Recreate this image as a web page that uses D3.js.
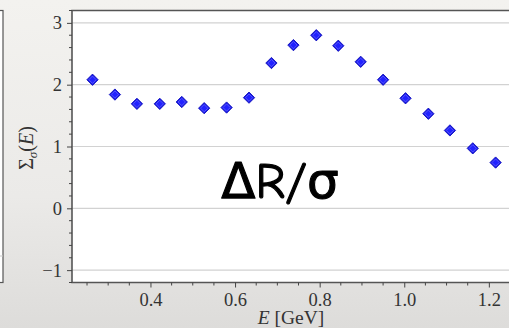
<!DOCTYPE html>
<html>
<head>
<meta charset="utf-8">
<script src="https://cdn.jsdelivr.net/npm/d3@7"></script>
<style>
  html, body { margin: 0; padding: 0; overflow: hidden; }
  svg { display: block; }
</style>
</head>
<body>
<div id="chart"></div>
<script>
// data
var energy = [0.263, 0.316, 0.368, 0.422, 0.474, 0.527, 0.580, 0.633, 0.686, 0.738,
              0.792, 0.844, 0.897, 0.950, 1.003, 1.057, 1.108, 1.162, 1.216];
var sigma = [2.08, 1.84, 1.69, 1.69, 1.72, 1.62, 1.63, 1.79, 2.35, 2.64,
             2.80, 2.63, 2.37, 2.08, 1.78, 1.53, 1.26, 0.97, 0.74];
var xTicks = [0.4, 0.6, 0.8, 1.0, 1.2];
var yTicks = [-1, 0, 1, 2, 3];

function drawChart() {
  var W = 509, H = 328;
  var left = 72, top = 10.5, bottom = 282.5, right = 510;
  var serif = "'Liberation Serif', 'Times New Roman', serif";

  var svg = d3.select("#chart").append("svg")
      .attr("width", W)
      .attr("height", H);

  // photo-like backdrop
  var grad = svg.append("defs").append("linearGradient")
      .attr("id", "bg").attr("x1", 0).attr("y1", 0).attr("x2", 0).attr("y2", 1);
  grad.append("stop").attr("offset", "0").attr("stop-color", "#f3f2ef");
  grad.append("stop").attr("offset", "0.6").attr("stop-color", "#ebeae8");
  grad.append("stop").attr("offset", "1").attr("stop-color", "#dddcda");
  svg.append("rect").attr("width", W).attr("height", H).attr("fill", "url(#bg)");

  // edge of the neighbouring panel
  svg.append("rect").attr("x", -2).attr("y", top).attr("width", 5).attr("height", bottom - top)
      .attr("fill", "#fff").attr("stroke", "#555").attr("stroke-width", 1.2);
  svg.append("line").attr("x1", 0).attr("x2", 3).attr("y1", 256).attr("y2", 256)
      .attr("stroke", "#c8c8c8");

  var x = d3.scaleLinear().domain([0.2145, 1.25]).range([left, right]);
  var y = d3.scaleLinear().domain([-1.2, 3.2]).range([bottom, top]);

  svg.append("rect")
      .attr("x", left).attr("y", top)
      .attr("width", right - left).attr("height", bottom - top)
      .attr("fill", "#fff");

  // grid
  svg.append("g").selectAll("line")
      .data(yTicks)
      .enter().append("line")
      .attr("x1", left).attr("x2", right)
      .attr("y1", function(d) { return y(d); })
      .attr("y2", function(d) { return y(d); })
      .attr("stroke", "#d2d2d2")
      .attr("stroke-width", 1.2);

  // frame
  svg.append("path")
      .attr("d", "M" + (right + 5) + "," + top + "H" + left + "V" + bottom + "H" + (right + 5))
      .attr("fill", "none")
      .attr("stroke", "#555")
      .attr("stroke-width", 1.6);

  // x axis
  var xMinor = d3.range(0.25, 1.26, 0.05).filter(function(v) {
    return !xTicks.some(function(t) { return Math.abs(t - v) < 1e-6; });
  });
  var xAxis = d3.axisBottom(x).tickValues(xTicks)
      .tickFormat(d3.format(".1f")).tickSizeInner(5).tickSizeOuter(0).tickPadding(5);
  var gx = svg.append("g")
      .attr("transform", "translate(0," + bottom + ")")
      .call(xAxis);
  gx.append("g").selectAll("line")
      .data(xMinor)
      .enter().append("line")
      .attr("x1", function(d) { return x(d); })
      .attr("x2", function(d) { return x(d); })
      .attr("y1", 0).attr("y2", 3)
      .attr("stroke", "#444");

  // y axis
  var yMinor = d3.range(-1.2, 3.21, 0.2).filter(function(v) {
    return !yTicks.some(function(t) { return Math.abs(t - v) < 1e-6; });
  });
  var yAxis = d3.axisLeft(y).tickValues(yTicks)
      .tickFormat(function(d) { return d < 0 ? "\u2212" + Math.abs(d) : d; })
      .tickSizeInner(5).tickSizeOuter(0).tickPadding(5);
  var gy = svg.append("g")
      .attr("transform", "translate(" + left + ",0)")
      .call(yAxis);
  gy.append("g").selectAll("line")
      .data(yMinor)
      .enter().append("line")
      .attr("y1", function(d) { return y(d); })
      .attr("y2", function(d) { return y(d); })
      .attr("x1", 0).attr("x2", -3)
      .attr("stroke", "#444");

  svg.selectAll(".domain").remove();
  svg.selectAll("g.tick line").attr("stroke", "#444");
  gx.attr("font-family", null).attr("font-size", null);
  gy.attr("font-family", null).attr("font-size", null);
  svg.selectAll("g.tick text")
      .attr("font-family", serif)
      .attr("font-size", 18.5)
      .attr("fill", "#333");

  // axis titles
  var xt = svg.append("text")
      .attr("x", (left + right) / 2)
      .attr("y", 324)
      .attr("text-anchor", "middle")
      .attr("font-family", serif)
      .attr("font-size", 19.5)
      .attr("fill", "#333");
  xt.append("tspan").attr("font-style", "italic").text("E");
  xt.append("tspan").text(" [GeV]");

  var yt = svg.append("text")
      .attr("transform", "translate(33,148) rotate(-90)")
      .attr("text-anchor", "middle")
      .attr("font-family", serif)
      .attr("font-size", 20)
      .attr("fill", "#333");
  yt.append("tspan").text("\u03A3");
  yt.append("tspan").attr("dy", 4).attr("font-size", 13).attr("font-style", "italic").text("\u03C3");
  yt.append("tspan").attr("dy", -4).text("(");
  yt.append("tspan").attr("font-style", "italic").text("E");
  yt.append("tspan").text(")");

  // markers
  var pts = svg.append("g").selectAll("g")
      .data(energy)
      .enter().append("g")
      .attr("transform", function(d, i) {
        return "translate(" + x(d) + "," + y(sigma[i]) + ") rotate(45)";
      });
  pts.append("rect")
      .attr("x", -4).attr("y", -4).attr("width", 8).attr("height", 8)
      .attr("fill", "#1818e8")
      .attr("stroke", "#0a0ab8")
      .attr("stroke-width", 0.8);
  pts.append("rect")
      .attr("x", -2.6).attr("y", -2.6).attr("width", 5.2).attr("height", 5.2)
      .attr("fill", "#2222ff")
      .attr("stroke", "#6a6aff")
      .attr("stroke-width", 0.7);

  // overlay annotation
  svg.append("text")
      .attr("x", 280)
      .attr("y", 198)
      .attr("text-anchor", "middle")
      .attr("font-family", "'Comic Sans MS', 'Comic Neue', 'DejaVu Sans', sans-serif")
      .attr("font-size", 50)
      .attr("fill", "#000")
      .attr("stroke", "#000")
      .attr("stroke-width", 1.2)
      .attr("stroke-linejoin", "round")
      .text("\u0394R/\u03C3");
}

drawChart();
</script>
</body>
</html>
